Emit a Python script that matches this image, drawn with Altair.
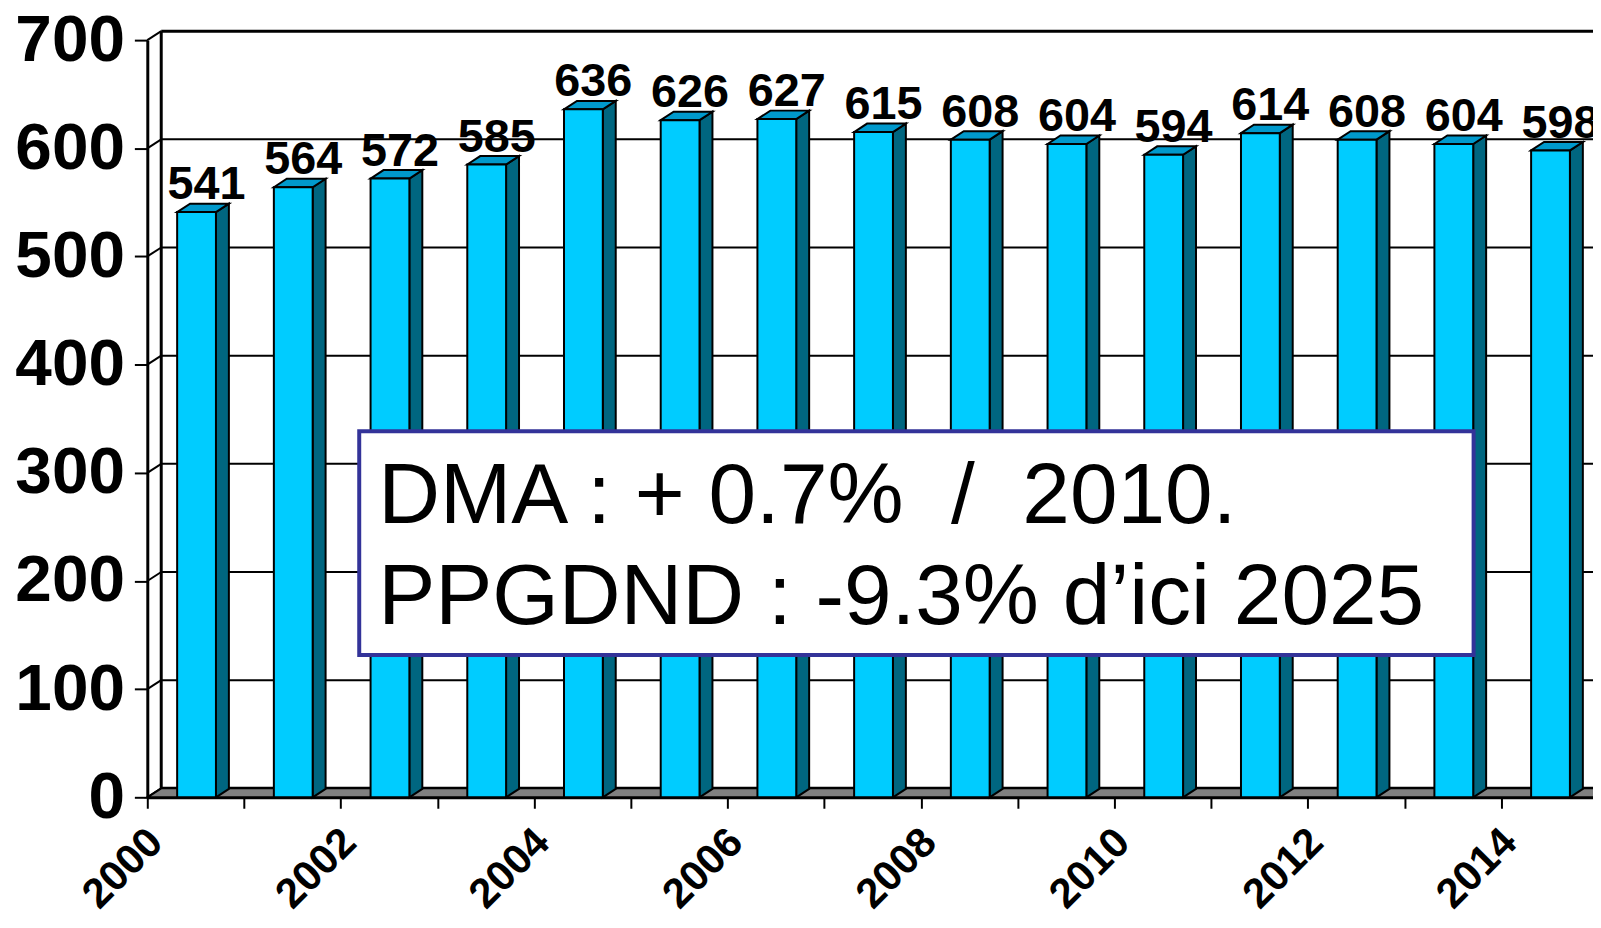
import altair as alt
import pandas as pd

# ---------------- data ----------------
years = [2000, 2001, 2002, 2003, 2004, 2005, 2006, 2007, 2008, 2009, 2010, 2011, 2012, 2013, 2014]
values = [541, 564, 572, 585, 636, 626, 627, 615, 608, 604, 594, 614, 608, 604, 598]
y_ticks = [0, 100, 200, 300, 400, 500, 600, 700]
x_ticks = list(range(2000, 2016))
note_lines = ["DMA : + 0.7%\u00a0\u00a0/\u00a0\u00a02010.", "PPGDND : -9.3% d\u2019ici 2025"]

# ---------------- geometry / style ----------------
FONT = "Liberation Sans"
W, H = 1453, 761
PAD = {"left": 140, "top": 30, "right": 0, "bottom": 114}
PX_YEAR = 97.2
X_MIN = 2000
X_MAX = X_MIN + W / PX_YEAR
Y_MAX = 700
PX_UNIT = H / Y_MAX


def xu(px):
    return px / PX_YEAR


def yu(px):
    return px / PX_UNIT


BAR_L, BAR_R = xu(30), xu(69)
BAR_DX, BAR_DY = xu(13), yu(8.5)
WALL_DX, WALL_DY = xu(14), yu(9)

FRONT = "#00ccff"
TOP = "#0099cc"
SIDE = "#006680"
FLOOR = "#808080"
BOX = "#333399"

xs = alt.Scale(domain=[X_MIN, X_MAX], nice=False, zero=False)
ys = alt.Scale(domain=[0, Y_MAX], nice=False, zero=True)

X_AXIS = alt.Axis(
    values=x_ticks, format="d",
    labelExpr="datum.value % 2 == 0 ? datum.label : ''",
    labelAngle=315, labelAlign="right", labelBaseline="middle",
    labelFont=FONT, labelFontSize=42, labelFontWeight="bold", labelColor="black",
    labelOffset=8, labelPadding=27, labelFlush=False, labelOverlap=False,
    tickSize=11, tickWidth=2, tickColor="black",
    domainColor="black", domainWidth=3, grid=False, title=None,
)
Y_AXIS = alt.Axis(
    values=y_ticks,
    labelFont=FONT, labelFontSize=66, labelFontWeight="bold", labelColor="black",
    labelPadding=10, labelFlush=False, labelOverlap=False,
    tickSize=13, tickWidth=2, tickColor="black",
    domainColor="black", domainWidth=3, grid=False, title=None,
)


def X(field):
    return alt.X(field, scale=xs, axis=X_AXIS)


def Y(field):
    return alt.Y(field, scale=ys, axis=Y_AXIS)


# ---------------- tables ----------------
grid = pd.DataFrame({"v": y_ticks})
grid["x0"] = X_MIN
grid["xb"] = X_MIN + WALL_DX
grid["vb"] = grid["v"] + WALL_DY
grid["w"] = [3 if v in (0, Y_MAX) else 2 for v in y_ticks]

wall_edge = pd.DataFrame({"x": [X_MIN + WALL_DX], "y0": [WALL_DY], "y1": [Y_MAX + WALL_DY]})

floor = pd.DataFrame({
    "x": [X_MIN, X_MIN + WALL_DX, X_MAX + 1],
    "y": [0, WALL_DY, WALL_DY],
    "y2": [0, 0, 0],
})

bars = pd.DataFrame({"year": years, "v": values})
bars["xl"] = bars["year"] + BAR_L
bars["xr"] = bars["year"] + BAR_R
bars["xt"] = bars["year"] + (BAR_L + BAR_R) / 2 + xu(10)
bars["zero"] = 0

side_rows, top_rows = [], []
for yr, v in zip(years, values):
    xl, xr = yr + BAR_L, yr + BAR_R
    side_rows += [
        {"id": yr, "x": xr, "y": v, "y2": 0},
        {"id": yr, "x": xr + BAR_DX, "y": v + BAR_DY, "y2": BAR_DY},
    ]
    top_rows += [
        {"id": yr, "x": xl, "y": v, "y2": v},
        {"id": yr, "x": xl + BAR_DX, "y": v + BAR_DY, "y2": v},
        {"id": yr, "x": xr, "y": v + BAR_DY, "y2": v},
        {"id": yr, "x": xr + BAR_DX, "y": v + BAR_DY, "y2": v + BAR_DY},
    ]
side = pd.DataFrame(side_rows)
top = pd.DataFrame(top_rows)

box = pd.DataFrame({
    "x0": [X_MIN + xu(361 - 148)], "x1": [X_MIN + xu(1481 - 148)],
    "y0": [yu(799 - 431)], "y1": [yu(799 - 656)],
})
notes = pd.DataFrame({
    "t": note_lines,
    "x": [X_MIN + xu(380 - 148)] * 2,
    "y": [yu(799 - 523), yu(799 - 625)],
})

# ---------------- layers ----------------
back_grid = alt.Chart(grid).mark_rule(color="black").encode(
    x=X("xb:Q"),
    x2=alt.value(W + 60),
    y=Y("vb:Q"),
    strokeWidth=alt.StrokeWidth("w:Q", scale=None, legend=None),
)

side_links = alt.Chart(grid).mark_rule(color="black", strokeWidth=2).encode(
    x=X("x0:Q"), x2="xb:Q", y=Y("v:Q"), y2="vb:Q",
)

wall_left = alt.Chart(wall_edge).mark_rule(color="black", strokeWidth=3).encode(
    x=X("x:Q"), y=Y("y0:Q"), y2="y1:Q",
)

floor_layer = alt.Chart(floor).mark_area(
    color=FLOOR, stroke="black", strokeWidth=2, opacity=1
).encode(x=X("x:Q"), y=Y("y:Q"), y2="y2:Q")

side_layer = alt.Chart(side).mark_area(
    color=SIDE, stroke="black", strokeWidth=2, opacity=1
).encode(x=X("x:Q"), y=Y("y:Q"), y2="y2:Q", detail="id:N")

top_layer = alt.Chart(top).mark_area(
    color=TOP, stroke="black", strokeWidth=2, opacity=1
).encode(x=X("x:Q"), y=Y("y:Q"), y2="y2:Q", detail="id:N")

front_layer = alt.Chart(bars).mark_bar(
    color=FRONT, stroke="black", strokeWidth=2, opacity=1
).encode(x=X("xl:Q"), x2="xr:Q", y=Y("v:Q"), y2="zero:Q")

labels = alt.Chart(bars).mark_text(
    font=FONT, fontSize=47, fontWeight="bold", color="black",
    baseline="alphabetic", align="center", dy=-13,
).encode(x=X("xt:Q"), y=Y("v:Q"), text=alt.Text("v:Q"))

box_layer = alt.Chart(box).mark_rect(
    fill="white", stroke=BOX, strokeWidth=4
).encode(x=X("x0:Q"), x2="x1:Q", y=Y("y0:Q"), y2="y1:Q")

note_layer = alt.Chart(notes).mark_text(
    font=FONT, fontSize=86, color="black", align="left", baseline="alphabetic",
).encode(x=X("x:Q"), y=Y("y:Q"), text="t:N")

chart = alt.layer(
    back_grid, side_links, wall_left, floor_layer,
    side_layer, top_layer, front_layer, labels,
    box_layer, note_layer,
).properties(
    width=W, height=H, padding=PAD,
    autosize=alt.AutoSizeParams(type="none"),
    background="white",
).configure_view(stroke=None)

chart.save("out.html", embed_options={"renderer": "svg", "actions": False})
